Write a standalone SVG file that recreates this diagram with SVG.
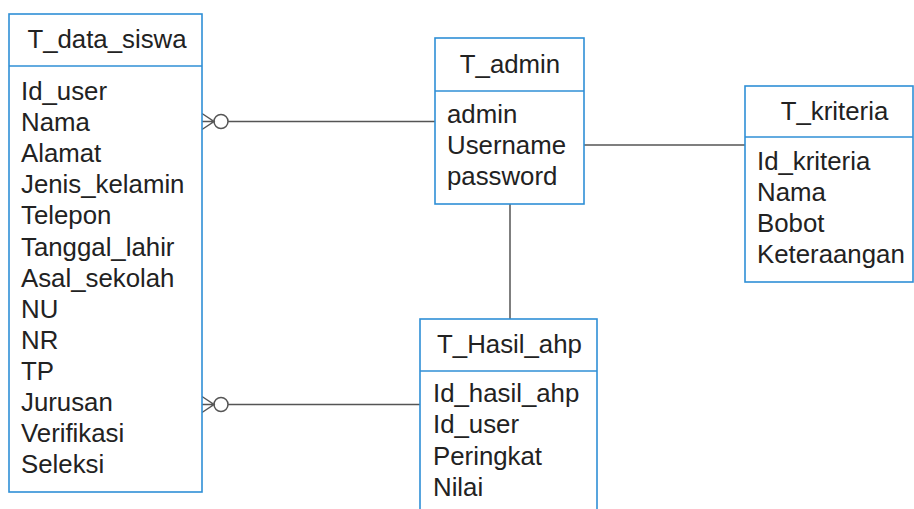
<svg xmlns="http://www.w3.org/2000/svg" width="914" height="509" viewBox="0 0 914 509">
  <style>
    .box { fill: #ffffff; stroke: #2f8fd6; stroke-width: 1.6; }
    .sep { stroke: #2f8fd6; stroke-width: 1.6; }
    .title { font-family: "Liberation Sans", Arial, sans-serif; font-size: 25.8px; fill: #222222; text-anchor: middle; }
    .field { font-family: "Liberation Sans", Arial, sans-serif; font-size: 25.8px; fill: #222222; }
    .link { fill: none; stroke: #555555; stroke-width: 1.5; }
  </style>
  <rect width="914" height="509" fill="#ffffff"/>

  <!-- relationships -->
  <g id="connectors">
    <!-- T_data_siswa (many, optional) to T_admin -->
    <path class="link" d="M202,113.5 L214,121.5 L202,129.5 M202,121.5 L214,121.5"/>
    <circle class="link" cx="221" cy="121.5" r="7"/>
    <line class="link" x1="228" y1="121.5" x2="435" y2="121.5"/>
    <!-- T_data_siswa (many, optional) to T_Hasil_ahp -->
    <path class="link" d="M202,396.5 L214,404.5 L202,412.5 M202,404.5 L214,404.5"/>
    <circle class="link" cx="221" cy="404.5" r="7"/>
    <line class="link" x1="228" y1="404.5" x2="420" y2="404.5"/>
    <!-- T_admin to T_kriteria -->
    <line class="link" x1="584" y1="145" x2="745" y2="145"/>
    <!-- T_admin to T_Hasil_ahp -->
    <line class="link" x1="510" y1="204" x2="510" y2="319"/>
  </g>

  <g id="T_data_siswa">
    <rect class="box" x="9" y="14" width="193" height="478"/>
    <line class="sep" x1="9" y1="66" x2="202" y2="66"/>
    <text class="title" x="107" y="48">T_data_siswa</text>
    <text class="field" x="21" y="100">Id_user</text>
    <text class="field" x="21" y="131.1">Nama</text>
    <text class="field" x="21" y="162.2">Alamat</text>
    <text class="field" x="21" y="193.3">Jenis_kelamin</text>
    <text class="field" x="21" y="224.4">Telepon</text>
    <text class="field" x="21" y="255.5">Tanggal_lahir</text>
    <text class="field" x="21" y="286.6">Asal_sekolah</text>
    <text class="field" x="21" y="317.7">NU</text>
    <text class="field" x="21" y="348.8">NR</text>
    <text class="field" x="21" y="379.9">TP</text>
    <text class="field" x="21" y="411">Jurusan</text>
    <text class="field" x="21" y="442.1">Verifikasi</text>
    <text class="field" x="21" y="473.2">Seleksi</text>
  </g>

  <g id="T_admin">
    <rect class="box" x="435" y="38" width="149" height="166"/>
    <line class="sep" x1="435" y1="91" x2="584" y2="91"/>
    <text class="title" x="510" y="72.5">T_admin</text>
    <text class="field" x="447" y="123">admin</text>
    <text class="field" x="447" y="154">Username</text>
    <text class="field" x="447" y="185">password</text>
  </g>

  <g id="T_kriteria">
    <rect class="box" x="745" y="86" width="168" height="196"/>
    <line class="sep" x1="745" y1="137" x2="913" y2="137"/>
    <text class="title" x="834.5" y="120">T_kriteria</text>
    <text class="field" x="757" y="170">Id_kriteria</text>
    <text class="field" x="757" y="201">Nama</text>
    <text class="field" x="757" y="232">Bobot</text>
    <text class="field" x="757" y="263">Keteraangan</text>
  </g>

  <g id="T_Hasil_ahp">
    <rect class="box" x="420" y="319" width="177" height="200"/>
    <line class="sep" x1="420" y1="371" x2="597" y2="371"/>
    <text class="title" x="509.5" y="353">T_Hasil_ahp</text>
    <text class="field" x="433" y="402">Id_hasil_ahp</text>
    <text class="field" x="433" y="433.3">Id_user</text>
    <text class="field" x="433" y="464.6">Peringkat</text>
    <text class="field" x="433" y="495.9">Nilai</text>
  </g>
</svg>
